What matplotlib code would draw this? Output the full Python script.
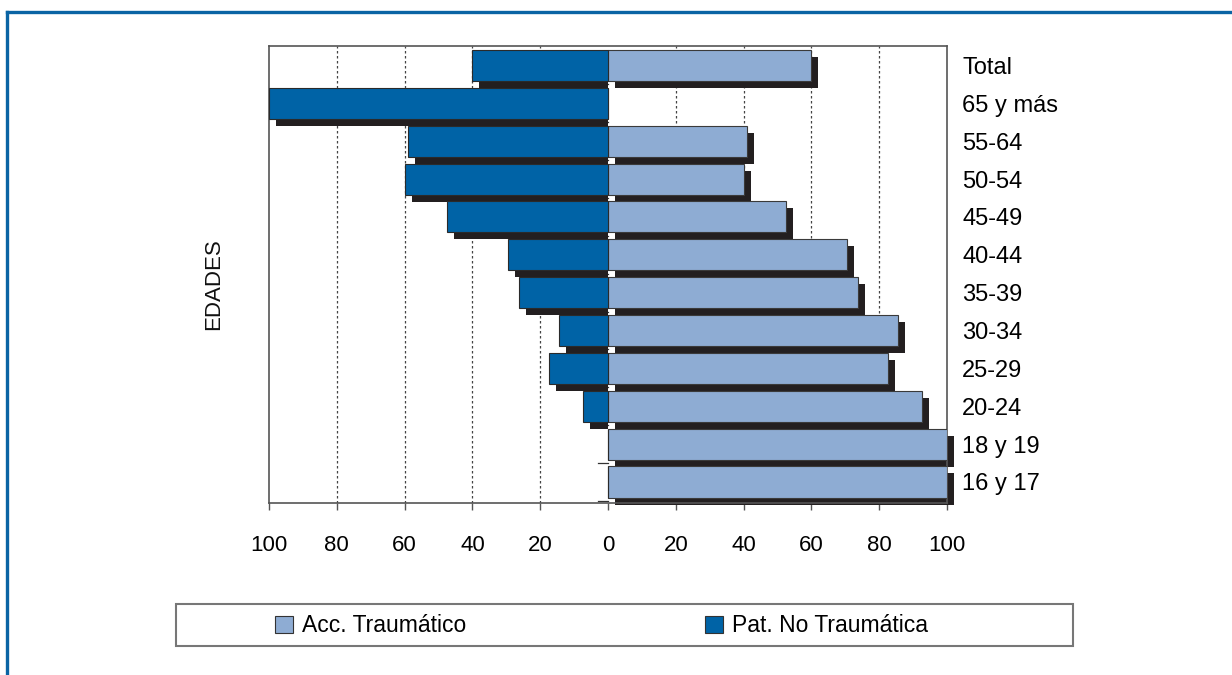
import matplotlib.pyplot as plt
import numpy as np
from matplotlib.patches import Rectangle, Patch
from matplotlib.lines import Line2D

plt.rcParams['font.family'] = ['Liberation Sans', 'DejaVu Sans']

# datos (de arriba a abajo)
edades = ["Total", "65 y más", "55-64", "50-54", "45-49", "40-44",
          "35-39", "30-34", "25-29", "20-24", "18 y 19", "16 y 17"]
acc_traumatico = [60, 0, 41, 40, 52.5, 70.6, 73.7, 85.5, 82.6, 92.6, 100, 100]
pat_no_traumatica = [40, 100, 59, 60, 47.5, 29.4, 26.3, 14.5, 17.4, 7.4, 0, 0]
xticks = [-100, -80, -60, -40, -20, 0, 20, 40, 60, 80, 100]

c_light = '#8eacd3'
c_dark = '#0063a6'
c_shadow = '#231f20'

fig = plt.figure(figsize=(12.32, 6.75), dpi=100)
ax = fig.add_axes([269/1232, 1-503/675, 678/1232, 457/675])

y = np.arange(len(edades))
acc = np.array(acc_traumatico, dtype=float)
pat = np.array(pat_no_traumatica, dtype=float)
h = 0.82
dx, dy = 2.06, 0.185

# sombras
m = acc > 0
ax.barh(y[m] + dy, acc[m], left=dx, height=h, color=c_shadow, zorder=2, clip_on=False)
m = pat > 0
ax.barh(y[m] + dy, pat[m] - dx, left=-pat[m] + dx, height=h, color=c_shadow, zorder=2, clip_on=False)

# barras
ax.barh(y, acc, height=h, color=c_light, edgecolor='#3a3a3a', linewidth=0.8, zorder=3)
ax.barh(y, -pat, height=h, color=c_dark, edgecolor='#2a2a2a', linewidth=0.8, zorder=3)

# pequeñas marcas del eje de categorías en x=0
for b in np.arange(len(edades)) + 0.5:
    ax.plot([-3, 0], [b, b], color='#333333', lw=0.9, zorder=1)

# rejilla punteada
for t in xticks:
    if t not in (-100, 0, 100):
        ax.axvline(t, color='#444444', lw=0.9, linestyle=(0, (2, 2)), zorder=0)

ax.set_xlim(-100, 100)
ax.set_ylim(len(edades) - 1 + 0.555, -0.515)
ax.set_xticks(xticks)
ax.set_xticklabels([str(abs(t)) for t in xticks], fontsize=16)
ax.tick_params(axis='x', direction='out', length=5, width=1, color='#555555', pad=18)
ax.set_yticks(y)
ax.set_yticklabels(edades, fontsize=17)
ax.yaxis.tick_right()
ax.tick_params(axis='y', length=0, pad=11)
for s in ax.spines.values():
    s.set_color('#555555')
    s.set_linewidth(1.2)

fig.text(214/1232, 1-284/675, 'EDADES', rotation=90, fontsize=16,
         ha='center', va='center', color='#111111')

# leyenda
fig.add_artist(Rectangle((176/1232, 1-646/675), 897/1232, 42/675,
                         transform=fig.transFigure, fill=False,
                         edgecolor='#777777', lw=1.5))
handles = [Patch(facecolor=c_light, edgecolor='#333333', lw=0.8),
           Patch(facecolor=c_dark, edgecolor='#333333', lw=0.8)]
fig.legend(handles, ['Acc. Traumático', 'Pat. No Traumática'],
           loc='center left', bbox_to_anchor=(275/1232, 1-626/675),
           ncol=2, frameon=False, fontsize=16.5, handlelength=0.78,
           handleheight=0.78, handletextpad=0.4, columnspacing=10.4,
           borderpad=0, borderaxespad=0)

# marco azul exterior
fig.add_artist(Line2D([7/1232, 1], [1-12/675, 1-12/675], color='#0a64a4', lw=2.4,
                      transform=fig.transFigure))
fig.add_artist(Line2D([7/1232, 7/1232], [0, 1-12/675], color='#0a64a4', lw=2.4,
                      transform=fig.transFigure))

fig.savefig('out.png', dpi=100)
